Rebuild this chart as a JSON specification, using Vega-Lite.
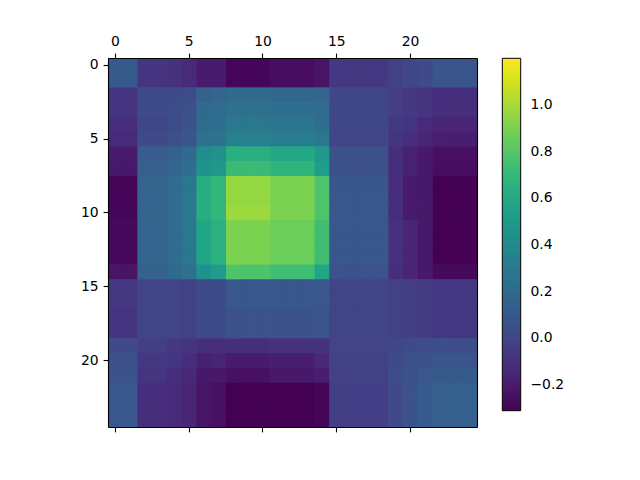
{
"$schema": "https://vega.github.io/schema/vega-lite/v6.json",
"width": 369, "height": 369,
"autosize": {"type": "none"},
"padding": {"left": 108, "top": 58, "right": 163, "bottom": 53},
"config": {"view": {"stroke": null}, "font": "DejaVu Sans"},
"data": {"values": [
{"r":0,"c":0,"v":0.113},{"r":0,"c":1,"v":0.113},{"r":0,"c":2,"v":-0.083},{"r":0,"c":3,"v":-0.083},{"r":0,"c":4,"v":-0.099},{"r":0,"c":5,"v":-0.129},{"r":0,"c":6,"v":-0.204},{"r":0,"c":7,"v":-0.204},{"r":0,"c":8,"v":-0.295},{"r":0,"c":9,"v":-0.295},{"r":0,"c":10,"v":-0.295},{"r":0,"c":11,"v":-0.265},{"r":0,"c":12,"v":-0.265},{"r":0,"c":13,"v":-0.265},{"r":0,"c":14,"v":-0.235},{"r":0,"c":15,"v":-0.068},{"r":0,"c":16,"v":-0.068},{"r":0,"c":17,"v":-0.068},{"r":0,"c":18,"v":-0.068},{"r":0,"c":19,"v":-0.023},{"r":0,"c":20,"v":0.007},{"r":0,"c":21,"v":0.022},{"r":0,"c":22,"v":0.083},{"r":0,"c":23,"v":0.083},{"r":0,"c":24,"v":0.083},
{"r":1,"c":0,"v":0.113},{"r":1,"c":1,"v":0.113},{"r":1,"c":2,"v":-0.083},{"r":1,"c":3,"v":-0.083},{"r":1,"c":4,"v":-0.099},{"r":1,"c":5,"v":-0.129},{"r":1,"c":6,"v":-0.204},{"r":1,"c":7,"v":-0.204},{"r":1,"c":8,"v":-0.295},{"r":1,"c":9,"v":-0.295},{"r":1,"c":10,"v":-0.295},{"r":1,"c":11,"v":-0.265},{"r":1,"c":12,"v":-0.265},{"r":1,"c":13,"v":-0.265},{"r":1,"c":14,"v":-0.235},{"r":1,"c":15,"v":-0.068},{"r":1,"c":16,"v":-0.068},{"r":1,"c":17,"v":-0.068},{"r":1,"c":18,"v":-0.068},{"r":1,"c":19,"v":-0.023},{"r":1,"c":20,"v":0.007},{"r":1,"c":21,"v":0.022},{"r":1,"c":22,"v":0.083},{"r":1,"c":23,"v":0.083},{"r":1,"c":24,"v":0.083},
{"r":2,"c":0,"v":-0.083},{"r":2,"c":1,"v":-0.083},{"r":2,"c":2,"v":0.022},{"r":2,"c":3,"v":0.022},{"r":2,"c":4,"v":0.022},{"r":2,"c":5,"v":0.037},{"r":2,"c":6,"v":0.158},{"r":2,"c":7,"v":0.173},{"r":2,"c":8,"v":0.203},{"r":2,"c":9,"v":0.203},{"r":2,"c":10,"v":0.203},{"r":2,"c":11,"v":0.188},{"r":2,"c":12,"v":0.188},{"r":2,"c":13,"v":0.188},{"r":2,"c":14,"v":0.173},{"r":2,"c":15,"v":0.007},{"r":2,"c":16,"v":0.007},{"r":2,"c":17,"v":0.007},{"r":2,"c":18,"v":0.007},{"r":2,"c":19,"v":-0.038},{"r":2,"c":20,"v":-0.068},{"r":2,"c":21,"v":-0.083},{"r":2,"c":22,"v":-0.114},{"r":2,"c":23,"v":-0.114},{"r":2,"c":24,"v":-0.114},
{"r":3,"c":0,"v":-0.083},{"r":3,"c":1,"v":-0.083},{"r":3,"c":2,"v":0.022},{"r":3,"c":3,"v":0.022},{"r":3,"c":4,"v":0.037},{"r":3,"c":5,"v":0.052},{"r":3,"c":6,"v":0.203},{"r":3,"c":7,"v":0.219},{"r":3,"c":8,"v":0.249},{"r":3,"c":9,"v":0.249},{"r":3,"c":10,"v":0.249},{"r":3,"c":11,"v":0.234},{"r":3,"c":12,"v":0.234},{"r":3,"c":13,"v":0.234},{"r":3,"c":14,"v":0.219},{"r":3,"c":15,"v":0.007},{"r":3,"c":16,"v":0.007},{"r":3,"c":17,"v":0.007},{"r":3,"c":18,"v":0.007},{"r":3,"c":19,"v":-0.038},{"r":3,"c":20,"v":-0.068},{"r":3,"c":21,"v":-0.083},{"r":3,"c":22,"v":-0.114},{"r":3,"c":23,"v":-0.114},{"r":3,"c":24,"v":-0.114},
{"r":4,"c":0,"v":-0.114},{"r":4,"c":1,"v":-0.114},{"r":4,"c":2,"v":0.007},{"r":4,"c":3,"v":0.007},{"r":4,"c":4,"v":0.037},{"r":4,"c":5,"v":0.068},{"r":4,"c":6,"v":0.219},{"r":4,"c":7,"v":0.234},{"r":4,"c":8,"v":0.294},{"r":4,"c":9,"v":0.294},{"r":4,"c":10,"v":0.294},{"r":4,"c":11,"v":0.279},{"r":4,"c":12,"v":0.279},{"r":4,"c":13,"v":0.279},{"r":4,"c":14,"v":0.234},{"r":4,"c":15,"v":0.007},{"r":4,"c":16,"v":0.007},{"r":4,"c":17,"v":0.007},{"r":4,"c":18,"v":0.007},{"r":4,"c":19,"v":-0.068},{"r":4,"c":20,"v":-0.083},{"r":4,"c":21,"v":-0.129},{"r":4,"c":22,"v":-0.159},{"r":4,"c":23,"v":-0.159},{"r":4,"c":24,"v":-0.159},
{"r":5,"c":0,"v":-0.129},{"r":5,"c":1,"v":-0.129},{"r":5,"c":2,"v":0.022},{"r":5,"c":3,"v":0.022},{"r":5,"c":4,"v":0.052},{"r":5,"c":5,"v":0.083},{"r":5,"c":6,"v":0.249},{"r":5,"c":7,"v":0.264},{"r":5,"c":8,"v":0.339},{"r":5,"c":9,"v":0.339},{"r":5,"c":10,"v":0.339},{"r":5,"c":11,"v":0.324},{"r":5,"c":12,"v":0.324},{"r":5,"c":13,"v":0.324},{"r":5,"c":14,"v":0.294},{"r":5,"c":15,"v":-0.008},{"r":5,"c":16,"v":-0.008},{"r":5,"c":17,"v":-0.008},{"r":5,"c":18,"v":-0.008},{"r":5,"c":19,"v":-0.083},{"r":5,"c":20,"v":-0.114},{"r":5,"c":21,"v":-0.159},{"r":5,"c":22,"v":-0.189},{"r":5,"c":23,"v":-0.189},{"r":5,"c":24,"v":-0.189},
{"r":6,"c":0,"v":-0.204},{"r":6,"c":1,"v":-0.204},{"r":6,"c":2,"v":0.128},{"r":6,"c":3,"v":0.128},{"r":6,"c":4,"v":0.158},{"r":6,"c":5,"v":0.203},{"r":6,"c":6,"v":0.415},{"r":6,"c":7,"v":0.445},{"r":6,"c":8,"v":0.641},{"r":6,"c":9,"v":0.641},{"r":6,"c":10,"v":0.641},{"r":6,"c":11,"v":0.596},{"r":6,"c":12,"v":0.596},{"r":6,"c":13,"v":0.596},{"r":6,"c":14,"v":0.505},{"r":6,"c":15,"v":0.052},{"r":6,"c":16,"v":0.052},{"r":6,"c":17,"v":0.052},{"r":6,"c":18,"v":0.052},{"r":6,"c":19,"v":-0.114},{"r":6,"c":20,"v":-0.174},{"r":6,"c":21,"v":-0.219},{"r":6,"c":22,"v":-0.25},{"r":6,"c":23,"v":-0.25},{"r":6,"c":24,"v":-0.25},
{"r":7,"c":0,"v":-0.219},{"r":7,"c":1,"v":-0.219},{"r":7,"c":2,"v":0.143},{"r":7,"c":3,"v":0.143},{"r":7,"c":4,"v":0.173},{"r":7,"c":5,"v":0.234},{"r":7,"c":6,"v":0.46},{"r":7,"c":7,"v":0.49},{"r":7,"c":8,"v":0.717},{"r":7,"c":9,"v":0.717},{"r":7,"c":10,"v":0.717},{"r":7,"c":11,"v":0.672},{"r":7,"c":12,"v":0.672},{"r":7,"c":13,"v":0.672},{"r":7,"c":14,"v":0.536},{"r":7,"c":15,"v":0.052},{"r":7,"c":16,"v":0.052},{"r":7,"c":17,"v":0.052},{"r":7,"c":18,"v":0.052},{"r":7,"c":19,"v":-0.114},{"r":7,"c":20,"v":-0.174},{"r":7,"c":21,"v":-0.219},{"r":7,"c":22,"v":-0.265},{"r":7,"c":23,"v":-0.265},{"r":7,"c":24,"v":-0.265},
{"r":8,"c":0,"v":-0.295},{"r":8,"c":1,"v":-0.295},{"r":8,"c":2,"v":0.173},{"r":8,"c":3,"v":0.173},{"r":8,"c":4,"v":0.219},{"r":8,"c":5,"v":0.294},{"r":8,"c":6,"v":0.626},{"r":8,"c":7,"v":0.687},{"r":8,"c":8,"v":0.96},{"r":8,"c":9,"v":0.96},{"r":8,"c":10,"v":0.96},{"r":8,"c":11,"v":0.9},{"r":8,"c":12,"v":0.9},{"r":8,"c":13,"v":0.9},{"r":8,"c":14,"v":0.777},{"r":8,"c":15,"v":0.098},{"r":8,"c":16,"v":0.098},{"r":8,"c":17,"v":0.098},{"r":8,"c":18,"v":0.098},{"r":8,"c":19,"v":-0.114},{"r":8,"c":20,"v":-0.204},{"r":8,"c":21,"v":-0.219},{"r":8,"c":22,"v":-0.31},{"r":8,"c":23,"v":-0.31},{"r":8,"c":24,"v":-0.31},
{"r":9,"c":0,"v":-0.295},{"r":9,"c":1,"v":-0.295},{"r":9,"c":2,"v":0.173},{"r":9,"c":3,"v":0.173},{"r":9,"c":4,"v":0.219},{"r":9,"c":5,"v":0.294},{"r":9,"c":6,"v":0.626},{"r":9,"c":7,"v":0.687},{"r":9,"c":8,"v":0.96},{"r":9,"c":9,"v":0.96},{"r":9,"c":10,"v":0.96},{"r":9,"c":11,"v":0.9},{"r":9,"c":12,"v":0.9},{"r":9,"c":13,"v":0.9},{"r":9,"c":14,"v":0.777},{"r":9,"c":15,"v":0.098},{"r":9,"c":16,"v":0.098},{"r":9,"c":17,"v":0.098},{"r":9,"c":18,"v":0.098},{"r":9,"c":19,"v":-0.114},{"r":9,"c":20,"v":-0.204},{"r":9,"c":21,"v":-0.219},{"r":9,"c":22,"v":-0.31},{"r":9,"c":23,"v":-0.31},{"r":9,"c":24,"v":-0.31},
{"r":10,"c":0,"v":-0.295},{"r":10,"c":1,"v":-0.295},{"r":10,"c":2,"v":0.173},{"r":10,"c":3,"v":0.173},{"r":10,"c":4,"v":0.219},{"r":10,"c":5,"v":0.294},{"r":10,"c":6,"v":0.626},{"r":10,"c":7,"v":0.687},{"r":10,"c":8,"v":0.975},{"r":10,"c":9,"v":0.975},{"r":10,"c":10,"v":0.975},{"r":10,"c":11,"v":0.9},{"r":10,"c":12,"v":0.9},{"r":10,"c":13,"v":0.9},{"r":10,"c":14,"v":0.777},{"r":10,"c":15,"v":0.098},{"r":10,"c":16,"v":0.098},{"r":10,"c":17,"v":0.098},{"r":10,"c":18,"v":0.098},{"r":10,"c":19,"v":-0.114},{"r":10,"c":20,"v":-0.204},{"r":10,"c":21,"v":-0.219},{"r":10,"c":22,"v":-0.31},{"r":10,"c":23,"v":-0.31},{"r":10,"c":24,"v":-0.31},
{"r":11,"c":0,"v":-0.28},{"r":11,"c":1,"v":-0.28},{"r":11,"c":2,"v":0.173},{"r":11,"c":3,"v":0.173},{"r":11,"c":4,"v":0.219},{"r":11,"c":5,"v":0.294},{"r":11,"c":6,"v":0.581},{"r":11,"c":7,"v":0.656},{"r":11,"c":8,"v":0.9},{"r":11,"c":9,"v":0.9},{"r":11,"c":10,"v":0.9},{"r":11,"c":11,"v":0.86},{"r":11,"c":12,"v":0.86},{"r":11,"c":13,"v":0.86},{"r":11,"c":14,"v":0.732},{"r":11,"c":15,"v":0.098},{"r":11,"c":16,"v":0.098},{"r":11,"c":17,"v":0.098},{"r":11,"c":18,"v":0.098},{"r":11,"c":19,"v":-0.099},{"r":11,"c":20,"v":-0.159},{"r":11,"c":21,"v":-0.219},{"r":11,"c":22,"v":-0.31},{"r":11,"c":23,"v":-0.31},{"r":11,"c":24,"v":-0.31},
{"r":12,"c":0,"v":-0.28},{"r":12,"c":1,"v":-0.28},{"r":12,"c":2,"v":0.173},{"r":12,"c":3,"v":0.173},{"r":12,"c":4,"v":0.219},{"r":12,"c":5,"v":0.294},{"r":12,"c":6,"v":0.581},{"r":12,"c":7,"v":0.656},{"r":12,"c":8,"v":0.9},{"r":12,"c":9,"v":0.9},{"r":12,"c":10,"v":0.9},{"r":12,"c":11,"v":0.86},{"r":12,"c":12,"v":0.86},{"r":12,"c":13,"v":0.86},{"r":12,"c":14,"v":0.732},{"r":12,"c":15,"v":0.098},{"r":12,"c":16,"v":0.098},{"r":12,"c":17,"v":0.098},{"r":12,"c":18,"v":0.098},{"r":12,"c":19,"v":-0.099},{"r":12,"c":20,"v":-0.159},{"r":12,"c":21,"v":-0.219},{"r":12,"c":22,"v":-0.31},{"r":12,"c":23,"v":-0.31},{"r":12,"c":24,"v":-0.31},
{"r":13,"c":0,"v":-0.28},{"r":13,"c":1,"v":-0.28},{"r":13,"c":2,"v":0.173},{"r":13,"c":3,"v":0.173},{"r":13,"c":4,"v":0.219},{"r":13,"c":5,"v":0.294},{"r":13,"c":6,"v":0.581},{"r":13,"c":7,"v":0.656},{"r":13,"c":8,"v":0.9},{"r":13,"c":9,"v":0.9},{"r":13,"c":10,"v":0.9},{"r":13,"c":11,"v":0.86},{"r":13,"c":12,"v":0.86},{"r":13,"c":13,"v":0.86},{"r":13,"c":14,"v":0.732},{"r":13,"c":15,"v":0.098},{"r":13,"c":16,"v":0.098},{"r":13,"c":17,"v":0.098},{"r":13,"c":18,"v":0.098},{"r":13,"c":19,"v":-0.099},{"r":13,"c":20,"v":-0.159},{"r":13,"c":21,"v":-0.219},{"r":13,"c":22,"v":-0.31},{"r":13,"c":23,"v":-0.31},{"r":13,"c":24,"v":-0.31},
{"r":14,"c":0,"v":-0.235},{"r":14,"c":1,"v":-0.235},{"r":14,"c":2,"v":0.158},{"r":14,"c":3,"v":0.158},{"r":14,"c":4,"v":0.203},{"r":14,"c":5,"v":0.249},{"r":14,"c":6,"v":0.445},{"r":14,"c":7,"v":0.52},{"r":14,"c":8,"v":0.777},{"r":14,"c":9,"v":0.777},{"r":14,"c":10,"v":0.777},{"r":14,"c":11,"v":0.732},{"r":14,"c":12,"v":0.732},{"r":14,"c":13,"v":0.732},{"r":14,"c":14,"v":0.581},{"r":14,"c":15,"v":0.068},{"r":14,"c":16,"v":0.068},{"r":14,"c":17,"v":0.068},{"r":14,"c":18,"v":0.068},{"r":14,"c":19,"v":-0.114},{"r":14,"c":20,"v":-0.159},{"r":14,"c":21,"v":-0.219},{"r":14,"c":22,"v":-0.28},{"r":14,"c":23,"v":-0.28},{"r":14,"c":24,"v":-0.28},
{"r":15,"c":0,"v":-0.068},{"r":15,"c":1,"v":-0.068},{"r":15,"c":2,"v":-0.008},{"r":15,"c":3,"v":-0.008},{"r":15,"c":4,"v":-0.008},{"r":15,"c":5,"v":-0.023},{"r":15,"c":6,"v":0.022},{"r":15,"c":7,"v":0.022},{"r":15,"c":8,"v":0.098},{"r":15,"c":9,"v":0.098},{"r":15,"c":10,"v":0.098},{"r":15,"c":11,"v":0.098},{"r":15,"c":12,"v":0.098},{"r":15,"c":13,"v":0.098},{"r":15,"c":14,"v":0.098},{"r":15,"c":15,"v":-0.008},{"r":15,"c":16,"v":-0.008},{"r":15,"c":17,"v":-0.008},{"r":15,"c":18,"v":-0.008},{"r":15,"c":19,"v":-0.023},{"r":15,"c":20,"v":-0.038},{"r":15,"c":21,"v":-0.053},{"r":15,"c":22,"v":-0.068},{"r":15,"c":23,"v":-0.068},{"r":15,"c":24,"v":-0.068},
{"r":16,"c":0,"v":-0.068},{"r":16,"c":1,"v":-0.068},{"r":16,"c":2,"v":-0.008},{"r":16,"c":3,"v":-0.008},{"r":16,"c":4,"v":-0.008},{"r":16,"c":5,"v":-0.023},{"r":16,"c":6,"v":0.022},{"r":16,"c":7,"v":0.022},{"r":16,"c":8,"v":0.098},{"r":16,"c":9,"v":0.098},{"r":16,"c":10,"v":0.098},{"r":16,"c":11,"v":0.098},{"r":16,"c":12,"v":0.098},{"r":16,"c":13,"v":0.098},{"r":16,"c":14,"v":0.098},{"r":16,"c":15,"v":-0.008},{"r":16,"c":16,"v":-0.008},{"r":16,"c":17,"v":-0.008},{"r":16,"c":18,"v":-0.008},{"r":16,"c":19,"v":-0.023},{"r":16,"c":20,"v":-0.038},{"r":16,"c":21,"v":-0.053},{"r":16,"c":22,"v":-0.068},{"r":16,"c":23,"v":-0.068},{"r":16,"c":24,"v":-0.068},
{"r":17,"c":0,"v":-0.083},{"r":17,"c":1,"v":-0.083},{"r":17,"c":2,"v":-0.008},{"r":17,"c":3,"v":-0.008},{"r":17,"c":4,"v":-0.008},{"r":17,"c":5,"v":-0.023},{"r":17,"c":6,"v":0.022},{"r":17,"c":7,"v":0.022},{"r":17,"c":8,"v":0.068},{"r":17,"c":9,"v":0.068},{"r":17,"c":10,"v":0.068},{"r":17,"c":11,"v":0.068},{"r":17,"c":12,"v":0.068},{"r":17,"c":13,"v":0.068},{"r":17,"c":14,"v":0.083},{"r":17,"c":15,"v":-0.008},{"r":17,"c":16,"v":-0.008},{"r":17,"c":17,"v":-0.008},{"r":17,"c":18,"v":-0.008},{"r":17,"c":19,"v":-0.023},{"r":17,"c":20,"v":-0.038},{"r":17,"c":21,"v":-0.053},{"r":17,"c":22,"v":-0.068},{"r":17,"c":23,"v":-0.068},{"r":17,"c":24,"v":-0.068},
{"r":18,"c":0,"v":-0.083},{"r":18,"c":1,"v":-0.083},{"r":18,"c":2,"v":-0.008},{"r":18,"c":3,"v":-0.008},{"r":18,"c":4,"v":-0.008},{"r":18,"c":5,"v":-0.023},{"r":18,"c":6,"v":0.022},{"r":18,"c":7,"v":0.022},{"r":18,"c":8,"v":0.068},{"r":18,"c":9,"v":0.068},{"r":18,"c":10,"v":0.068},{"r":18,"c":11,"v":0.068},{"r":18,"c":12,"v":0.068},{"r":18,"c":13,"v":0.068},{"r":18,"c":14,"v":0.083},{"r":18,"c":15,"v":-0.008},{"r":18,"c":16,"v":-0.008},{"r":18,"c":17,"v":-0.008},{"r":18,"c":18,"v":-0.008},{"r":18,"c":19,"v":-0.023},{"r":18,"c":20,"v":-0.038},{"r":18,"c":21,"v":-0.053},{"r":18,"c":22,"v":-0.068},{"r":18,"c":23,"v":-0.068},{"r":18,"c":24,"v":-0.068},
{"r":19,"c":0,"v":0.022},{"r":19,"c":1,"v":0.022},{"r":19,"c":2,"v":-0.038},{"r":19,"c":3,"v":-0.038},{"r":19,"c":4,"v":-0.068},{"r":19,"c":5,"v":-0.083},{"r":19,"c":6,"v":-0.114},{"r":19,"c":7,"v":-0.114},{"r":19,"c":8,"v":-0.114},{"r":19,"c":9,"v":-0.114},{"r":19,"c":10,"v":-0.114},{"r":19,"c":11,"v":-0.099},{"r":19,"c":12,"v":-0.099},{"r":19,"c":13,"v":-0.099},{"r":19,"c":14,"v":-0.099},{"r":19,"c":15,"v":-0.008},{"r":19,"c":16,"v":-0.008},{"r":19,"c":17,"v":-0.008},{"r":19,"c":18,"v":-0.008},{"r":19,"c":19,"v":0.007},{"r":19,"c":20,"v":0.022},{"r":19,"c":21,"v":0.037},{"r":19,"c":22,"v":0.037},{"r":19,"c":23,"v":0.037},{"r":19,"c":24,"v":0.037},
{"r":20,"c":0,"v":0.052},{"r":20,"c":1,"v":0.052},{"r":20,"c":2,"v":-0.068},{"r":20,"c":3,"v":-0.068},{"r":20,"c":4,"v":-0.083},{"r":20,"c":5,"v":-0.114},{"r":20,"c":6,"v":-0.174},{"r":20,"c":7,"v":-0.159},{"r":20,"c":8,"v":-0.204},{"r":20,"c":9,"v":-0.204},{"r":20,"c":10,"v":-0.204},{"r":20,"c":11,"v":-0.189},{"r":20,"c":12,"v":-0.189},{"r":20,"c":13,"v":-0.189},{"r":20,"c":14,"v":-0.144},{"r":20,"c":15,"v":-0.023},{"r":20,"c":16,"v":-0.023},{"r":20,"c":17,"v":-0.023},{"r":20,"c":18,"v":-0.023},{"r":20,"c":19,"v":0.022},{"r":20,"c":20,"v":0.052},{"r":20,"c":21,"v":0.068},{"r":20,"c":22,"v":0.083},{"r":20,"c":23,"v":0.083},{"r":20,"c":24,"v":0.083},
{"r":21,"c":0,"v":0.068},{"r":21,"c":1,"v":0.068},{"r":21,"c":2,"v":-0.083},{"r":21,"c":3,"v":-0.083},{"r":21,"c":4,"v":-0.114},{"r":21,"c":5,"v":-0.144},{"r":21,"c":6,"v":-0.219},{"r":21,"c":7,"v":-0.219},{"r":21,"c":8,"v":-0.25},{"r":21,"c":9,"v":-0.25},{"r":21,"c":10,"v":-0.25},{"r":21,"c":11,"v":-0.219},{"r":21,"c":12,"v":-0.219},{"r":21,"c":13,"v":-0.219},{"r":21,"c":14,"v":-0.189},{"r":21,"c":15,"v":-0.023},{"r":21,"c":16,"v":-0.023},{"r":21,"c":17,"v":-0.023},{"r":21,"c":18,"v":-0.023},{"r":21,"c":19,"v":0.037},{"r":21,"c":20,"v":0.068},{"r":21,"c":21,"v":0.098},{"r":21,"c":22,"v":0.113},{"r":21,"c":23,"v":0.113},{"r":21,"c":24,"v":0.113},
{"r":22,"c":0,"v":0.098},{"r":22,"c":1,"v":0.098},{"r":22,"c":2,"v":-0.114},{"r":22,"c":3,"v":-0.114},{"r":22,"c":4,"v":-0.129},{"r":22,"c":5,"v":-0.159},{"r":22,"c":6,"v":-0.235},{"r":22,"c":7,"v":-0.25},{"r":22,"c":8,"v":-0.31},{"r":22,"c":9,"v":-0.31},{"r":22,"c":10,"v":-0.31},{"r":22,"c":11,"v":-0.31},{"r":22,"c":12,"v":-0.31},{"r":22,"c":13,"v":-0.31},{"r":22,"c":14,"v":-0.295},{"r":22,"c":15,"v":-0.038},{"r":22,"c":16,"v":-0.038},{"r":22,"c":17,"v":-0.038},{"r":22,"c":18,"v":-0.038},{"r":22,"c":19,"v":0.022},{"r":22,"c":20,"v":0.068},{"r":22,"c":21,"v":0.113},{"r":22,"c":22,"v":0.143},{"r":22,"c":23,"v":0.143},{"r":22,"c":24,"v":0.143},
{"r":23,"c":0,"v":0.098},{"r":23,"c":1,"v":0.098},{"r":23,"c":2,"v":-0.114},{"r":23,"c":3,"v":-0.114},{"r":23,"c":4,"v":-0.129},{"r":23,"c":5,"v":-0.159},{"r":23,"c":6,"v":-0.235},{"r":23,"c":7,"v":-0.25},{"r":23,"c":8,"v":-0.31},{"r":23,"c":9,"v":-0.31},{"r":23,"c":10,"v":-0.31},{"r":23,"c":11,"v":-0.31},{"r":23,"c":12,"v":-0.31},{"r":23,"c":13,"v":-0.31},{"r":23,"c":14,"v":-0.295},{"r":23,"c":15,"v":-0.038},{"r":23,"c":16,"v":-0.038},{"r":23,"c":17,"v":-0.038},{"r":23,"c":18,"v":-0.038},{"r":23,"c":19,"v":0.022},{"r":23,"c":20,"v":0.068},{"r":23,"c":21,"v":0.113},{"r":23,"c":22,"v":0.143},{"r":23,"c":23,"v":0.143},{"r":23,"c":24,"v":0.143},
{"r":24,"c":0,"v":0.098},{"r":24,"c":1,"v":0.098},{"r":24,"c":2,"v":-0.114},{"r":24,"c":3,"v":-0.114},{"r":24,"c":4,"v":-0.129},{"r":24,"c":5,"v":-0.159},{"r":24,"c":6,"v":-0.235},{"r":24,"c":7,"v":-0.25},{"r":24,"c":8,"v":-0.31},{"r":24,"c":9,"v":-0.31},{"r":24,"c":10,"v":-0.31},{"r":24,"c":11,"v":-0.31},{"r":24,"c":12,"v":-0.31},{"r":24,"c":13,"v":-0.31},{"r":24,"c":14,"v":-0.295},{"r":24,"c":15,"v":-0.038},{"r":24,"c":16,"v":-0.038},{"r":24,"c":17,"v":-0.038},{"r":24,"c":18,"v":-0.038},{"r":24,"c":19,"v":0.022},{"r":24,"c":20,"v":0.068},{"r":24,"c":21,"v":0.113},{"r":24,"c":22,"v":0.143},{"r":24,"c":23,"v":0.143},{"r":24,"c":24,"v":0.143}
]},
"layer": [
{
"mark": {"type": "rect"},
"encoding": {
"x": {"field": "c", "type": "ordinal", "scale": {"paddingInner": 0, "paddingOuter": 0},
"axis": {"orient": "top", "values": [0,5,10,15,20], "labelAngle": 0, "title": null, "grid": false,
"domainColor": "black", "domainWidth": 1.1, "tickColor": "black", "tickSize": 4.9, "tickWidth": 1.1,
"labelFontSize": 13.9, "labelPadding": 4.9, "labelColor": "black", "labelFont": "DejaVu Sans", "labelOverlap": false, "labelFlush": false}},
"y": {"field": "r", "type": "ordinal", "scale": {"paddingInner": 0, "paddingOuter": 0},
"axis": {"orient": "left", "values": [0,5,10,15,20], "title": null, "grid": false,
"domainColor": "black", "domainWidth": 1.1, "tickColor": "black", "tickSize": 4.9, "tickWidth": 1.1,
"labelFontSize": 13.9, "labelPadding": 4.9, "labelColor": "black", "labelFont": "DejaVu Sans", "labelOverlap": false, "labelFlush": false}},
"color": {"field": "v", "type": "quantitative",
"scale": {"scheme": "viridis", "domain": [-0.31, 1.2]},
"legend": {"type": "gradient", "orient": "none", "legendX": 394.3, "legendY": 0.3, "direction": "vertical", "padding": 0,
"gradientLength": 352.4, "gradientThickness": 18.4, "values": [-0.2,0,0.2,0.4,0.6,0.8,1.0],
"labelExpr": "replace(format(datum.value, '.1f'), '-', '−')", "labelFontSize": 13.9, "labelColor": "black",
"labelFont": "DejaVu Sans", "labelOffset": 9.7, "labelOverlap": false, "gradientStrokeColor": "black",
"gradientStrokeWidth": 1, "title": null}}
}
},
{
"mark": {"type": "rect"},
"encoding": {
"x": {"field": "c", "type": "ordinal", "scale": {"paddingInner": 0, "paddingOuter": 0}, "axis": null},
"y": {"field": "r", "type": "ordinal", "scale": {"paddingInner": 0, "paddingOuter": 0}, "axis": null},
"color": {"field": "v", "type": "quantitative"}
}
},
{
"mark": {"type": "rect"},
"encoding": {
"x": {"field": "c", "type": "ordinal", "scale": {"paddingInner": 0, "paddingOuter": 0},
"axis": {"orient": "bottom", "values": [0,5,10,15,20], "labels": false, "title": null, "grid": false,
"domainColor": "black", "domainWidth": 1.1, "tickColor": "black", "tickSize": 4.9, "tickWidth": 1.1}},
"y": {"field": "r", "type": "ordinal", "scale": {"paddingInner": 0, "paddingOuter": 0},
"axis": {"orient": "right", "labels": false, "ticks": false, "title": null, "grid": false,
"domainColor": "black", "domainWidth": 1.1}},
"color": {"field": "v", "type": "quantitative"}
}
}
],
"resolve": {"axis": {"x": "independent", "y": "independent"}}
}
